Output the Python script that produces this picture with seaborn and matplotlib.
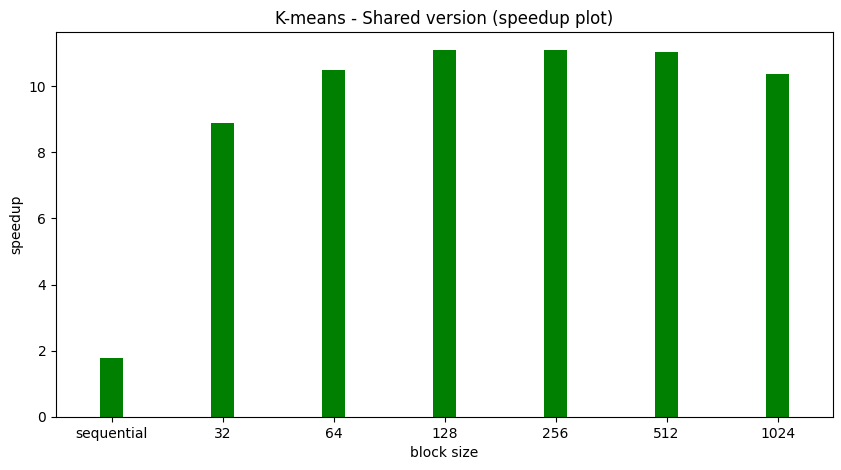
import matplotlib
matplotlib.use("Agg")
import matplotlib.pyplot as plt
import seaborn as sns
import pandas as pd

block_sizes = ["sequential", "32", "64", "128", "256", "512", "1024"]
speedups = [1.78, 8.87, 10.47, 11.08, 11.08, 11.03, 10.35]

df = pd.DataFrame({"block size": block_sizes, "speedup": speedups})

fig, ax = plt.subplots(figsize=(8.41, 4.70), dpi=100)
fig.subplots_adjust(left=0.0666, right=0.9905, top=0.932, bottom=0.113)
sns.barplot(data=df, x="block size", y="speedup", color="green", saturation=1,
            width=0.2, ax=ax)
ax.set_title("K-means - Shared version (speedup plot)")
ax.set_xlabel("block size")
ax.set_ylabel("speedup")
fig.savefig("out.png", dpi=100)
